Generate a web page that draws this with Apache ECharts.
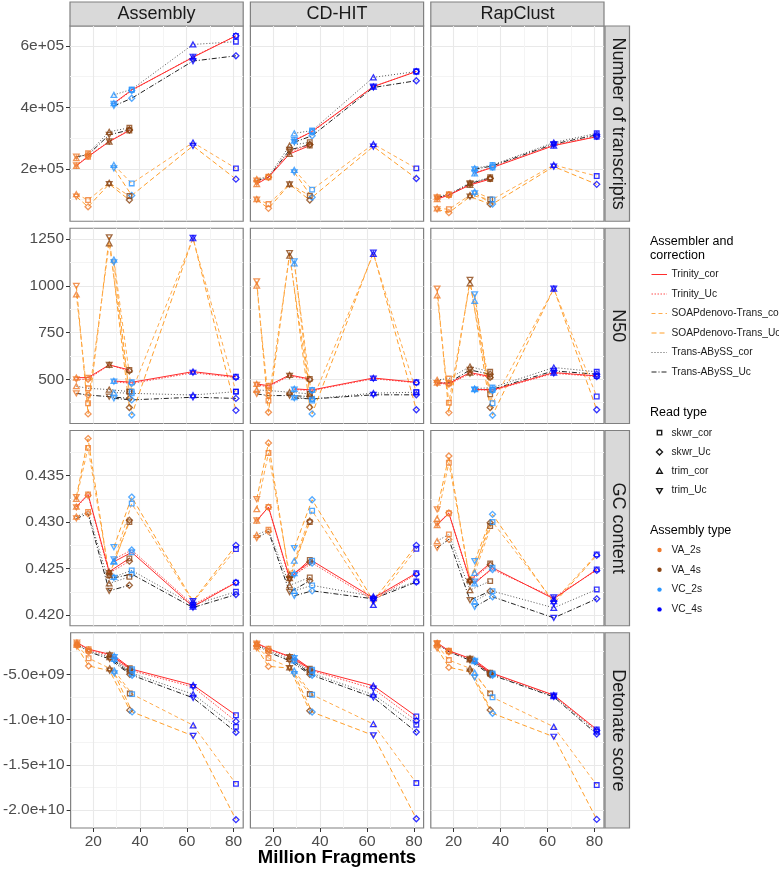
<!DOCTYPE html>
<html><head><meta charset="utf-8">
<script src="https://cdn.jsdelivr.net/npm/echarts@6/dist/echarts.min.js"></script>
<style>html,body{margin:0;padding:0;background:#fff}#chart{width:779px;height:870px}</style>
</head><body><div id="chart"></div>
<script>
// ---------- categories ----------
const methods = ['Assembly', 'CD-HIT', 'RapClust'];
const metrics = ['Number of transcripts', 'N50', 'GC content', 'Detonate score'];
const assemblers = ['Trinity_cor', 'Trinity_Uc', 'SOAPdenovo-Trans_cor', 'SOAPdenovo-Trans_Uc', 'Trans-ABySS_cor', 'Trans-ABySS_Uc'];
const readTypes = ['skwr_cor', 'skwr_Uc', 'trim_cor', 'trim_Uc'];
const assemblyTypes = ['VA_2s', 'VA_4s', 'VC_2s', 'VC_4s'];
// point slots of every line: fragments (millions), assembly type, read kind
const fragments = [13, 18, 27, 35.6, 29, 36.6, 62.7, 81];
const slotAssembly = ['VA_2s', 'VA_2s', 'VA_4s', 'VA_4s', 'VC_2s', 'VC_2s', 'VC_4s', 'VC_4s'];
const slotRead = ['trim', 'skwr', 'trim', 'skwr', 'trim', 'skwr', 'trim', 'skwr'];
const segments = [[0, 1, 2, 3], [4, 5, 6, 7]];

// ---------- values (rows follow `assemblers`, columns follow `fragments`) ----------
const transcripts_Assembly = [
  [210000, 240000, 289000, 325000, 414000, 457000, 563000, 633000],
  [212000, 242000, 290000, 327000, 412000, 455000, 565000, 633000],
  [118000, 99000, 155000, 112000, 213000, 153000, 286000, 202000],
  [110000, 77000, 151000, 99000, 202000, 114000, 275000, 167000],
  [235000, 251000, 321000, 334000, 441000, 459000, 605000, 614000],
  [240000, 246000, 311000, 327000, 405000, 430000, 551000, 568000]];
const transcripts_CDHIT = [
  [151000, 173000, 249000, 276000, 292000, 322000, 468000, 517000],
  [155000, 174000, 255000, 280000, 295000, 320000, 468000, 517000],
  [102000, 86000, 151000, 113000, 197000, 133000, 281000, 202000],
  [100000, 72000, 150000, 99000, 189000, 108000, 273000, 169000],
  [167000, 175000, 276000, 287000, 316000, 325000, 498000, 517000],
  [162000, 173000, 262000, 279000, 287000, 308000, 465000, 487000]];
const transcripts_RapClust = [
  [102000, 115000, 148000, 167000, 186000, 205000, 276000, 305000],
  [104000, 116000, 150000, 169000, 188000, 206000, 278000, 306000],
  [72000, 69000, 115000, 101000, 126000, 101000, 213000, 177000],
  [69000, 58000, 110000, 86000, 121000, 86000, 208000, 150000],
  [110000, 118000, 155000, 173000, 202000, 213000, 286000, 316000],
  [108000, 115000, 153000, 170000, 199000, 210000, 281000, 311000]];

const n50_Assembly = [
  [509, 509, 577, 550, 491, 484, 541, 514],
  [500, 500, 577, 545, 487, 478, 535, 510],
  [954, 372, 1227, 434, 1140, 434, 1254, 434],
  [999, 315, 1259, 349, 1125, 309, 1256, 334],
  [463, 452, 445, 434, 429, 425, 416, 434],
  [425, 416, 407, 398, 398, 390, 404, 398]];
const n50_CDHIT = [
  [475, 466, 523, 502, 449, 443, 507, 484],
  [470, 460, 518, 498, 445, 440, 503, 482],
  [1001, 386, 1161, 422, 1120, 386, 1170, 431],
  [1024, 324, 1174, 351, 1131, 315, 1177, 337],
  [443, 440, 431, 422, 404, 395, 426, 431],
  [422, 413, 413, 408, 400, 395, 417, 417]];
const n50_RapClust = [
  [482, 478, 536, 515, 447, 443, 536, 518],
  [478, 474, 530, 510, 445, 440, 532, 515],
  [949, 375, 1013, 420, 919, 372, 985, 408],
  [985, 322, 1031, 349, 954, 308, 985, 337],
  [497, 504, 568, 540, 450, 456, 563, 540],
  [479, 482, 550, 527, 443, 447, 545, 527]];

const gc_Assembly = [
  [0.43166, 0.43299, 0.42466, 0.42610, 0.42574, 0.42675, 0.42090, 0.42348],
  [0.4316, 0.4329, 0.4245, 0.4258, 0.4260, 0.4270, 0.4211, 0.4235],
  [0.4325, 0.4380, 0.4243, 0.4300, 0.4258, 0.4320, 0.4214, 0.4271],
  [0.4327, 0.4390, 0.4242, 0.4302, 0.4273, 0.4327, 0.4215, 0.4275],
  [0.4306, 0.4311, 0.4234, 0.4241, 0.4241, 0.4248, 0.4211, 0.4225],
  [0.4304, 0.4309, 0.4226, 0.4232, 0.4240, 0.4244, 0.4208, 0.4222]];
const gc_CDHIT = [
  [0.43015, 0.43163, 0.42397, 0.42594, 0.42451, 0.42584, 0.42182, 0.42451],
  [0.4302, 0.4316, 0.4238, 0.4257, 0.4243, 0.4256, 0.4216, 0.4244],
  [0.43141, 0.43745, 0.42433, 0.4300, 0.42584, 0.43123, 0.42109, 0.42713],
  [0.43249, 0.43853, 0.4239, 0.4301, 0.42721, 0.43241, 0.42152, 0.4275],
  [0.42864, 0.42918, 0.42319, 0.42405, 0.4226, 0.42319, 0.422, 0.42362],
  [0.42828, 0.429, 0.42246, 0.42368, 0.42206, 0.4226, 0.42174, 0.42354]];
const gc_RapClust = [
  [0.42969, 0.43095, 0.42376, 0.42556, 0.4234, 0.42508, 0.42174, 0.42491],
  [0.4298, 0.4310, 0.4236, 0.4254, 0.4236, 0.4249, 0.4219, 0.4248],
  [0.43037, 0.4364, 0.42383, 0.42958, 0.42454, 0.43001, 0.42149, 0.42653],
  [0.43138, 0.43712, 0.42354, 0.42993, 0.4258, 0.43084, 0.42124, 0.42642],
  [0.42796, 0.42868, 0.42268, 0.42365, 0.42149, 0.42257, 0.42077, 0.42275],
  [0.42724, 0.42814, 0.4216, 0.42257, 0.42088, 0.42196, 0.41969, 0.42174]];

const detonate_Assembly = [
  [-1.48e9, -2.22e9, -2.78e9, -4.33e9, -2.96e9, -4.44e9, -6.19e9, -9.52e9],
  [-1.5e9, -2.3e9, -2.9e9, -4.5e9, -3.1e9, -4.6e9, -6.4e9, -10.2e9],
  [-1.74e9, -3.22e9, -4.33e9, -7.11e9, -4.59e9, -7.19e9, -10.63e9, -17.11e9],
  [-1.93e9, -4.07e9, -4.59e9, -8.96e9, -4.89e9, -9.15e9, -11.81e9, -21.07e9],
  [-1.6e9, -2.4e9, -3.1e9, -4.7e9, -3.3e9, -4.9e9, -7.2e9, -10.8e9],
  [-1.7e9, -2.5e9, -3.3e9, -5.0e9, -3.5e9, -5.1e9, -7.6e9, -11.4e9]];
const detonate_CDHIT = [
  [-1.54e9, -2.17e9, -3.01e9, -4.38e9, -3.12e9, -4.49e9, -6.26e9, -9.65e9],
  [-1.6e9, -2.25e9, -3.1e9, -4.5e9, -3.2e9, -4.6e9, -6.59e9, -10.13e9],
  [-1.9e9, -3.2e9, -4.23e9, -7.18e9, -4.6e9, -7.25e9, -10.5e9, -17.02e9],
  [-2.09e9, -4.12e9, -4.3e9, -9.03e9, -4.97e9, -9.17e9, -11.75e9, -20.97e9],
  [-1.65e9, -2.4e9, -3.3e9, -4.75e9, -3.45e9, -4.9e9, -7.25e9, -10.57e9],
  [-1.75e9, -2.55e9, -3.5e9, -5.0e9, -3.6e9, -5.1e9, -7.55e9, -11.38e9]];
const detonate_RapClust = [
  [-1.51e9, -2.39e9, -3.23e9, -4.82e9, -3.42e9, -4.89e9, -7.29e9, -11.09e9],
  [-1.55e9, -2.45e9, -3.3e9, -4.9e9, -3.5e9, -4.95e9, -7.35e9, -11.2e9],
  [-1.76e9, -3.42e9, -4.34e9, -7.1e9, -4.82e9, -7.54e9, -10.8e9, -17.24e9],
  [-2.12e9, -4.23e9, -4.71e9, -8.95e9, -5.33e9, -9.31e9, -11.9e9, -21.04e9],
  [-1.6e9, -2.45e9, -3.35e9, -4.95e9, -3.55e9, -5.0e9, -7.4e9, -11.35e9],
  [-1.65e9, -2.5e9, -3.45e9, -5.05e9, -3.65e9, -5.1e9, -7.5e9, -11.6e9]];

// ---------- ticks ----------
const xTicks = [20, 40, 60, 80];
const xTickLabels = ['20', '40', '60', '80'];
const xMinorTicks = [30, 50, 70];
const yTicksTranscripts = [200000, 400000, 600000];
const yLabelsTranscripts = ['2e+05', '4e+05', '6e+05'];
const yMinorTranscripts = [100000, 300000, 500000];
const yTicksN50 = [500, 750, 1000, 1250];
const yLabelsN50 = ['500', '750', '1000', '1250'];
const yMinorN50 = [375, 625, 875, 1125];
const yTicksGC = [0.420, 0.425, 0.430, 0.435];
const yLabelsGC = ['0.420', '0.425', '0.430', '0.435'];
const yMinorGC = [0.4225, 0.4275, 0.4325, 0.4375];
const yTicksDetonate = [-2.0e10, -1.5e10, -1.0e10, -5.0e9];
const yLabelsDetonate = ['-2.0e+10', '-1.5e+10', '-1.0e+10', '-5.0e+09'];
const yMinorDetonate = [-1.75e10, -1.25e10, -7.5e9, -2.5e9];

// ---------- assembly of panels ----------
const panelValues = [
  [transcripts_Assembly, transcripts_CDHIT, transcripts_RapClust],
  [n50_Assembly, n50_CDHIT, n50_RapClust],
  [gc_Assembly, gc_CDHIT, gc_RapClust],
  [detonate_Assembly, detonate_CDHIT, detonate_RapClust]];
const rowTicks = [yTicksTranscripts, yTicksN50, yTicksGC, yTicksDetonate];
const rowLabels = [yLabelsTranscripts, yLabelsN50, yLabelsGC, yLabelsDetonate];
const rowMinor = [yMinorTranscripts, yMinorN50, yMinorGC, yMinorDetonate];
const rowRange = [[30000, 665000], [263.7, 1307.5], [0.41884, 0.43987], [-21.99e9, -0.40e9]];
const xRange = [10.3, 84.1];

// ---------- layout & style ----------
const FONT = '"Liberation Sans", Arial, Helvetica, sans-serif';
const colLeft = [70, 250.4, 430.8], colW = 173.2;
const rowTop = [26, 228.25, 430.5, 632.75], rowH = 195.25;
const borderCol = '#808080';
const lineStyles = {
  'Trinity_cor': { color: '#ff2d2d', type: 'solid', width: 1 },
  'Trinity_Uc': { color: '#ff4d4d', type: [1.5, 1.5], width: 1 },
  'SOAPdenovo-Trans_cor': { color: '#ffac4d', type: [4, 3], width: 1 },
  'SOAPdenovo-Trans_Uc': { color: '#ff9f2a', type: [5, 3], width: 1 },
  'Trans-ABySS_cor': { color: '#555555', type: [1, 2], width: 1 },
  'Trans-ABySS_Uc': { color: '#222222', type: [5, 2, 1, 2], width: 1 }
};
const assemblyColors = { VA_2s: '#ef7a2c', VA_4s: '#8b4513', VC_2s: '#2b95ff', VC_4s: '#0000ff' };
const readSymbols = { skwr_cor: 'rect', skwr_Uc: 'diamond', trim_cor: 'triangle', trim_Uc: 'path://M0,0L10,0L5,8.66Z' };
const readSizes = { skwr_cor: 4.6, skwr_Uc: 6, trim_cor: [5.6, 5], trim_Uc: [5.6, 5] };

const grids = [], xAxes = [], yAxes = [], series = [];
for (let r = 0; r < 4; r++) {
  for (let c = 0; c < 3; c++) {
    const gi = grids.length;
    grids.push({ left: colLeft[c], top: rowTop[r], width: colW, height: rowH, show: true,
      borderColor: borderCol, borderWidth: 1.2, backgroundColor: '#ffffff' });
    const ticks = rowTicks[r], labels = rowLabels[r];
    // major axes
    xAxes.push({ type: 'value', gridIndex: gi, min: xRange[0], max: xRange[1], position: 'bottom',
      axisLine: { show: false },
      axisTick: { show: r === 3, customValues: xTicks, length: 4, lineStyle: { color: '#333333', width: 1 } },
      axisLabel: { show: r === 3, customValues: xTicks, fontSize: 15.5, fontFamily: FONT, color: '#4d4d4d', margin: 6,
        formatter: v => xTickLabels[xTicks.indexOf(v)] || '' },
      splitLine: { show: true, lineStyle: { color: '#e9e9e9', width: 1.1 } } });
    xAxes.push({ type: 'value', gridIndex: gi, min: xRange[0], max: xRange[1], position: 'top',
      axisLine: { show: false }, axisTick: { show: false, customValues: xMinorTicks },
      axisLabel: { show: false, customValues: xMinorTicks },
      splitLine: { show: true, lineStyle: { color: '#f4f4f4', width: 1 } } });
    yAxes.push({ type: 'value', gridIndex: gi, min: rowRange[r][0], max: rowRange[r][1], position: 'left',
      axisLine: { show: false },
      axisTick: { show: c === 0, customValues: ticks, length: 4, lineStyle: { color: '#333333', width: 1 } },
      axisLabel: { show: c === 0, customValues: ticks, fontSize: 15.5, fontFamily: FONT, color: '#4d4d4d', margin: 6,
        formatter: v => { const k = ticks.indexOf(v); return k >= 0 ? labels[k] : ''; } },
      splitLine: { show: true, lineStyle: { color: '#e9e9e9', width: 1.1 } } });
    yAxes.push({ type: 'value', gridIndex: gi, min: rowRange[r][0], max: rowRange[r][1], position: 'right',
      axisLine: { show: false }, axisTick: { show: false, customValues: rowMinor[r] },
      axisLabel: { show: false, customValues: rowMinor[r] },
      splitLine: { show: true, lineStyle: { color: '#f4f4f4', width: 1 } } });

    const vals = panelValues[r][c];
    const drawOrder = [5, 4, 3, 2, 1, 0];
    drawOrder.forEach(i => {
      const name = assemblers[i];
      segments.forEach(seg => {
        series.push({ type: 'line', name: name, xAxisIndex: 2 * gi, yAxisIndex: 2 * gi,
          data: seg.map(j => [fragments[j], vals[i][j]]),
          symbol: 'none', showSymbol: false, silent: true, z: 2,
          lineStyle: lineStyles[name] });
      });
    });
    drawOrder.forEach(i => {
      const corr = i % 2 === 0 ? 'cor' : 'Uc';
      series.push({ type: 'scatter', name: assemblers[i] + ' points', xAxisIndex: 2 * gi, yAxisIndex: 2 * gi,
        silent: true, z: 3,
        data: vals[i].map((v, j) => {
          const rt = slotRead[j] + '_' + corr;
          return { value: [fragments[j], v], symbol: readSymbols[rt], symbolSize: readSizes[rt],
            itemStyle: { color: 'rgba(255,255,255,0)', borderColor: assemblyColors[slotAssembly[j]], borderWidth: 1.3 } };
        }) });
    });
  }
}

// ---------- strips, axis title, legend ----------
const graphics = [];
methods.forEach((m, c) => {
  graphics.push({ type: 'rect', shape: { x: colLeft[c], y: 2, width: colW, height: 24 },
    style: { fill: '#d9d9d9', stroke: borderCol, lineWidth: 1.2 } });
  graphics.push({ type: 'text', x: colLeft[c] + colW / 2, y: 14.5,
    style: { text: m, font: '18px ' + FONT, fill: '#1a1a1a', align: 'center', verticalAlign: 'middle' } });
});
metrics.forEach((m, r) => {
  graphics.push({ type: 'rect', shape: { x: 605, y: rowTop[r], width: 24.5, height: rowH },
    style: { fill: '#d9d9d9', stroke: borderCol, lineWidth: 1.2 } });
  graphics.push({ type: 'text', x: 617.5, y: rowTop[r] + rowH / 2, rotation: -Math.PI / 2,
    style: { text: m, font: '18px ' + FONT, fill: '#1a1a1a', align: 'center', verticalAlign: 'middle' } });
});
graphics.push({ type: 'text', x: 337, y: 858,
  style: { text: 'Million Fragments', font: 'bold 18.5px ' + FONT, fill: '#000', align: 'center', verticalAlign: 'middle' } });

const legTitleFont = '12.5px ' + FONT, legFont = '10.2px ' + FONT;
const lx = 650, keyX = 659.5, textX = 671.5;
graphics.push({ type: 'text', x: lx, y: 242, style: { text: 'Assembler and', font: legTitleFont, fill: '#000', align: 'left', verticalAlign: 'middle' } });
graphics.push({ type: 'text', x: lx, y: 256, style: { text: 'correction', font: legTitleFont, fill: '#000', align: 'left', verticalAlign: 'middle' } });
assemblers.forEach((a, i) => {
  const y = 274.5 + i * 19.5;
  const ls = lineStyles[a];
  graphics.push({ type: 'line', shape: { x1: 651.5, y1: y, x2: 667, y2: y },
    style: { stroke: ls.color, lineWidth: 1, lineDash: ls.type === 'solid' ? null : ls.type } });
  graphics.push({ type: 'text', x: textX, y: y, style: { text: a, font: legFont, fill: '#1a1a1a', align: 'left', verticalAlign: 'middle' } });
});
graphics.push({ type: 'text', x: lx, y: 413, style: { text: 'Read type', font: legTitleFont, fill: '#000', align: 'left', verticalAlign: 'middle' } });
readTypes.forEach((rt, i) => {
  const y = 432.7 + i * 19.3;
  let shape;
  if (rt === 'skwr_cor') shape = { type: 'rect', shape: { x: keyX - 2.2, y: y - 2.2, width: 4.4, height: 4.4 } };
  else if (rt === 'skwr_Uc') shape = { type: 'polygon', shape: { points: [[keyX, y - 3], [keyX + 3, y], [keyX, y + 3], [keyX - 3, y]] } };
  else if (rt === 'trim_cor') shape = { type: 'polygon', shape: { points: [[keyX, y - 2.8], [keyX + 2.8, y + 2], [keyX - 2.8, y + 2]] } };
  else shape = { type: 'polygon', shape: { points: [[keyX, y + 2.8], [keyX + 2.8, y - 2], [keyX - 2.8, y - 2]] } };
  shape.style = { fill: 'none', stroke: '#1a1a1a', lineWidth: 1.4 };
  graphics.push(shape);
  graphics.push({ type: 'text', x: textX, y: y, style: { text: rt, font: legFont, fill: '#1a1a1a', align: 'left', verticalAlign: 'middle' } });
});
graphics.push({ type: 'text', x: lx, y: 531, style: { text: 'Assembly type', font: legTitleFont, fill: '#000', align: 'left', verticalAlign: 'middle' } });
assemblyTypes.forEach((at, i) => {
  const y = 550 + i * 19.8;
  graphics.push({ type: 'circle', shape: { cx: keyX, cy: y, r: 2.2 }, style: { fill: assemblyColors[at] } });
  graphics.push({ type: 'text', x: textX, y: y, style: { text: at, font: legFont, fill: '#1a1a1a', align: 'left', verticalAlign: 'middle' } });
});

const chart = echarts.init(document.getElementById('chart'), null, { renderer: 'canvas' });
chart.setOption({
  backgroundColor: '#ffffff',
  animation: false,
  grid: grids, xAxis: xAxes, yAxis: yAxes, series: series,
  graphic: graphics
});
</script></body></html>
